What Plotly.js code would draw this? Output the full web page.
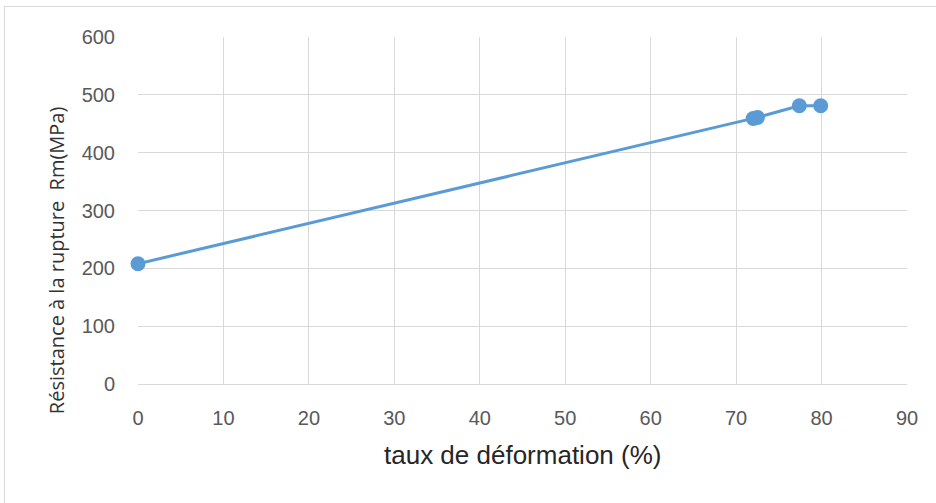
<!DOCTYPE html>
<html><head><meta charset="utf-8">
<script src="https://cdn.plot.ly/plotly-3.0.1.min.js"></script>
<style>
body{margin:0;padding:0;background:#fff;}
#wrap{position:relative;width:936px;height:503px;overflow:hidden;}
#chart{position:absolute;left:0;top:0;width:936px;height:503px;}
#frame{position:absolute;left:4px;top:6px;width:940px;height:520px;border:1px solid #d9d9d9;pointer-events:none;}
</style></head>
<body>
<div id="wrap"><div id="chart"></div><div id="frame"></div></div>
<script>
const deformation = [0, 72.0, 72.5, 77.4, 79.9];
const resistance = [208, 459, 461, 481, 481];
const xTicks = [0,10,20,30,40,50,60,70,80,90];
const yTicks = [0,100,200,300,400,500,600];
const xTitle = 'taux de déformation (%)';
const yTitle = 'Résistance à la rupture\u00a0 Rm(MPa)';

const trace = {
  x: deformation, y: resistance, type: 'scatter', mode: 'lines+markers',
  line: {color: '#5b9bd5', width: 3},
  marker: {color: '#5b9bd5', size: 15},
  cliponaxis: false, hoverinfo: 'none'
};
const fam = 'Liberation Sans, Arial, sans-serif';
const layout = {
  width: 936, height: 503,
  margin: {l: 138, r: 29, t: 37, b: 119},
  paper_bgcolor: 'rgba(0,0,0,0)', plot_bgcolor: '#fff',
  showlegend: false,
  font: {family: fam, color: '#595959', size: 18},
  xaxis: {
    range: [0, 90], tickvals: xTicks, ticktext: xTicks.map(String),
    showgrid: true, gridcolor: '#d9d9d9', gridwidth: 1,
    zeroline: false, showline: true, linecolor: '#d9d9d9', linewidth: 1,
    ticks: '', ticklabelstandoff: 16,
    tickfont: {family: fam, size: 20, color: '#595959'}
  },
  yaxis: {
    range: [0, 600], tickvals: yTicks, ticktext: yTicks.map(String),
    showgrid: true, gridcolor: '#d9d9d9', gridwidth: 1,
    zeroline: false, showline: false,
    ticks: '', ticklabelstandoff: 22,
    tickfont: {family: fam, size: 20, color: '#595959'}
  },
  annotations: [{
    text: yTitle, textangle: -90, showarrow: false,
    xref: 'paper', yref: 'paper', x: -0.1066, y: 0.357,
    xanchor: 'center', yanchor: 'middle',
    font: {family: 'Open Sans, Liberation Sans, sans-serif', size: 20, color: '#333333'}
  }, {
    text: xTitle, showarrow: false,
    xref: 'paper', yref: 'paper', x: 0.5, y: -0.2046,
    xanchor: 'center', yanchor: 'middle',
    font: {family: fam, size: 26, color: '#262626'}
  }]
};
Plotly.newPlot('chart', [trace], layout, {displayModeBar: false, staticPlot: true});
</script>
</body></html>
